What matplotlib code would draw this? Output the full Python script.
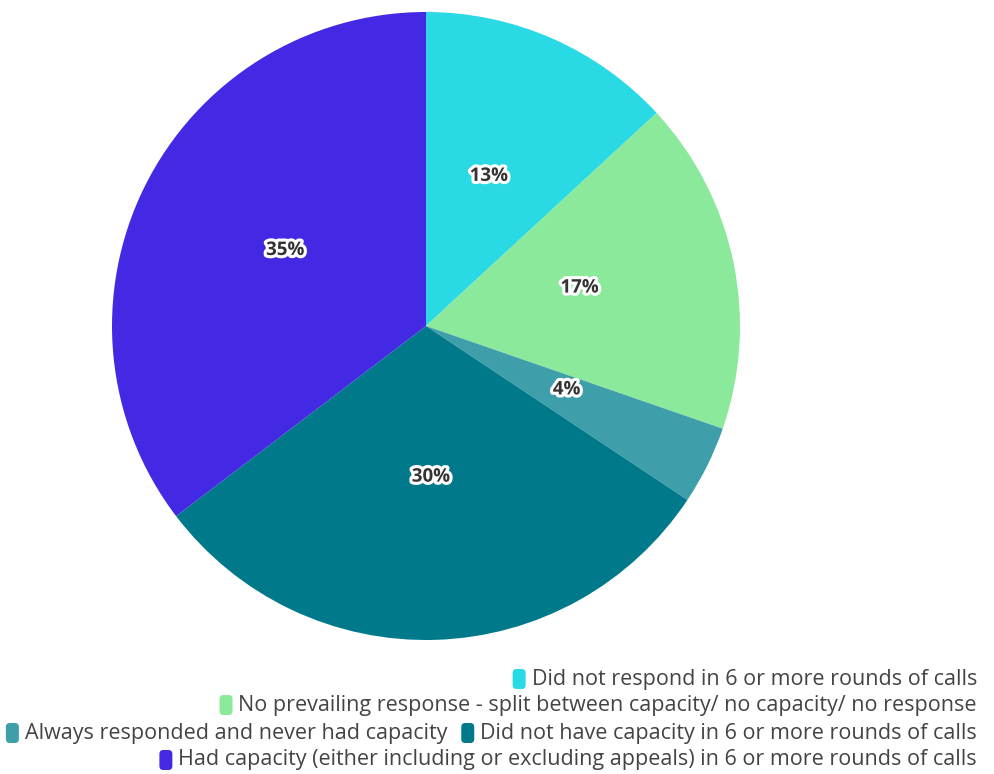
import matplotlib
matplotlib.use("Agg")
import matplotlib.pyplot as plt
import matplotlib.patheffects as pe
from matplotlib.patches import FancyBboxPatch
import numpy as np

categories = [
    "Did not respond in 6 or more rounds of calls",
    "No prevailing response - split between capacity/ no capacity/ no response",
    "Always responded and never had capacity",
    "Did not have capacity in 6 or more rounds of calls",
    "Had capacity (either including or excluding appeals) in 6 or more rounds of calls",
]
shares = [13, 17, 4, 30, 35]
colors = ["#29D9E4", "#8BE99B", "#3E9EAA", "#007A8A", "#4329E3"]
legend_rows = [[0], [1], [2, 3], [4]]

W, H = 994, 774
fig = plt.figure(figsize=(W / 100, H / 100), dpi=100)
fig.patch.set_facecolor("white")

# pie area: centre (426, 326), radius 314 px
cx, cy, r = 426, 326, 314
ax = fig.add_axes([(cx - r) / W, (H - cy - r) / H, 2 * r / W, 2 * r / H])
wedges, _ = ax.pie(shares, colors=colors, startangle=90, counterclock=False,
                   radius=1.0, wedgeprops=dict(linewidth=0))
ax.set_xlim(-1, 1)
ax.set_ylim(-1, 1)
ax.set_aspect("equal")
ax.axis("off")

total = sum(shares)
start = 90.0
for v in shares:
    span = 360.0 * v / total
    mid = np.deg2rad(start - span / 2)
    start -= span
    ax.text(0.5 * np.cos(mid), 0.5 * np.sin(mid) + 0.02, f"{v}%",
            ha="center", va="center", fontsize=13.5, fontweight="bold",
            family="Open Sans", color="#333333",
            path_effects=[pe.withStroke(linewidth=4.5, foreground="white")])

# legend, right-aligned rows
fs = 15.5
right = 977
row_y = [679, 705, 733, 760]
renderer = fig.canvas.get_renderer()
mark_w, mark_h, gap, sep = 13, 20, 6, 14
for row, yc in zip(legend_rows, row_y):
    x = right
    for idx in reversed(row):
        t = fig.text(x / W, 1 - yc / H, categories[idx], ha="right", va="center",
                     fontsize=fs, family="Open Sans", color="#444444")
        bb = t.get_window_extent(renderer=renderer)
        mx = bb.x0 - gap - mark_w
        patch = FancyBboxPatch((mx / W, 1 - (yc + mark_h / 2) / H),
                               mark_w / W, mark_h / H,
                               boxstyle="round,pad=0,rounding_size=0.004",
                               transform=fig.transFigure, facecolor=colors[idx],
                               edgecolor="none", mutation_aspect=W / H)
        fig.add_artist(patch)
        x = mx - sep

fig.savefig("out.png", dpi=100)
